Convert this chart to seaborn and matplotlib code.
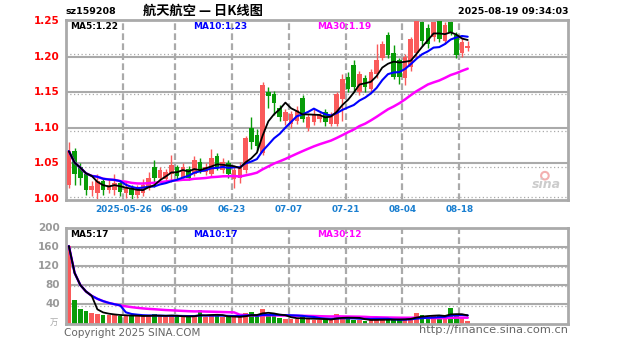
import numpy as np
import pandas as pd
import matplotlib
matplotlib.use("Agg")
import matplotlib.pyplot as plt
import seaborn as sns

# ---------------- data ----------------
code = "sz159208"
title = "航天航空 — 日K线图"
stamp = "2025-08-19 09:34:03"
first_day = "2025-05-12"
last_day = "2025-08-19"
holidays = ["2025-06-02"]

opens = [1.020, 1.068, 1.045, 1.035, 1.012, 1.008, 1.025, 1.012, 1.012, 1.022,
         1.008, 1.016, 1.005, 1.008, 1.016, 1.045, 1.030, 1.028, 1.035, 1.045,
         1.030, 1.042, 1.035, 1.052, 1.038, 1.035, 1.060, 1.040, 1.050, 1.028,
         1.030, 1.040, 1.100, 1.090, 1.065, 1.150, 1.148, 1.128, 1.110, 1.105,
         1.110, 1.142, 1.100, 1.108, 1.112, 1.122, 1.106, 1.105, 1.140, 1.172,
         1.188, 1.150, 1.170, 1.155, 1.175, 1.198, 1.230, 1.205, 1.195, 1.170,
         1.185, 1.205, 1.248, 1.240, 1.228, 1.250, 1.222, 1.248, 1.230, 1.205,
         1.212]
highs = [1.080, 1.072, 1.050, 1.038, 1.025, 1.035, 1.028, 1.028, 1.035, 1.026,
         1.024, 1.020, 1.020, 1.028, 1.038, 1.055, 1.045, 1.042, 1.062, 1.048,
         1.050, 1.046, 1.060, 1.058, 1.050, 1.070, 1.064, 1.058, 1.055, 1.045,
         1.052, 1.088, 1.115, 1.098, 1.165, 1.158, 1.152, 1.132, 1.126, 1.124,
         1.130, 1.146, 1.120, 1.126, 1.124, 1.126, 1.122, 1.150, 1.175, 1.178,
         1.195, 1.180, 1.174, 1.182, 1.218, 1.222, 1.234, 1.216, 1.198, 1.204,
         1.228, 1.251, 1.251, 1.246, 1.250, 1.251, 1.248, 1.250, 1.234, 1.228,
         1.222]
lows = [1.015, 1.020, 1.020, 1.005, 1.004, 1.000, 1.006, 1.008, 1.005, 1.004,
        1.002, 1.000, 1.002, 1.004, 1.012, 1.017, 1.025, 1.022, 1.024, 1.028,
        1.026, 1.026, 1.032, 1.036, 1.034, 1.032, 1.040, 1.036, 1.030, 1.015,
        1.022, 1.036, 1.070, 1.068, 1.062, 1.128, 1.118, 1.110, 1.104, 1.100,
        1.105, 1.108, 1.096, 1.104, 1.108, 1.102, 1.102, 1.102, 1.110, 1.150,
        1.150, 1.146, 1.150, 1.150, 1.170, 1.195, 1.198, 1.168, 1.162, 1.160,
        1.180, 1.200, 1.215, 1.212, 1.222, 1.220, 1.218, 1.230, 1.198, 1.200,
        1.208]
closes = [1.067, 1.035, 1.030, 1.012, 1.018, 1.025, 1.012, 1.020, 1.022, 1.010,
          1.015, 1.005, 1.012, 1.020, 1.030, 1.030, 1.040, 1.038, 1.048, 1.032,
          1.045, 1.030, 1.055, 1.040, 1.045, 1.058, 1.045, 1.052, 1.035, 1.040,
          1.045, 1.085, 1.080, 1.075, 1.160, 1.145, 1.135, 1.115, 1.122, 1.120,
          1.125, 1.112, 1.115, 1.120, 1.118, 1.108, 1.118, 1.148, 1.168, 1.155,
          1.158, 1.175, 1.157, 1.178, 1.195, 1.218, 1.202, 1.172, 1.172, 1.200,
          1.225, 1.250, 1.222, 1.218, 1.248, 1.225, 1.245, 1.235, 1.202, 1.220,
          1.215]
volumes = [162, 50, 30, 26, 22, 20, 18, 17, 18, 16,
           17, 15, 16, 15, 17, 19, 15, 14, 18, 15,
           14, 13, 16, 28, 14, 18, 15, 13, 14, 13,
           14, 22, 24, 16, 30, 20, 15, 12, 10, 9,
           10, 14, 9, 8, 7, 9, 8, 20, 15, 9,
           8, 7, 6, 7, 10, 9, 8, 7, 8, 11,
           14, 22, 17, 14, 15, 17, 16, 33, 17, 14,
           5]

tick_dates = ["2025-05-26", "2025-06-09", "2025-06-23", "2025-07-07",
              "2025-07-21", "2025-08-04", "2025-08-18"]
tick_labels = ["2025-05-26", "06-09", "06-23", "07-07", "07-21", "08-04", "08-18"]
price_ticks = [1.00, 1.05, 1.10, 1.15, 1.20, 1.25]
vol_ticks = [40, 80, 120, 160, 200]
ma_price_text = ["MA5:1.22", "MA10:1.23", "MA30:1.19"]
ma_vol_text = ["MA5:17", "MA10:17", "MA30:12"]

# ---------------- frame ----------------
days = pd.bdate_range(first_day, last_day)
days = days[~days.isin(pd.to_datetime(holidays))]
df = pd.DataFrame({"date": days, "open": opens, "high": highs, "low": lows,
                   "close": closes, "vol": volumes})
df["x"] = np.arange(len(df))
for n in (5, 10, 30):
    df[f"ma{n}"] = df["close"].rolling(n, min_periods=1).mean()
    df[f"vma{n}"] = df["vol"].rolling(n, min_periods=1).mean()
tick_pos = [int(np.where(df["date"] == pd.Timestamp(d))[0][0]) for d in tick_dates]

RED = "#fa5a5a"
GREEN = "#089c08"
GRID = "#aaaaaa"
BLUE = "#0000ff"
MAG = "#ff00ff"

sns.set_style("white")
plt.rcParams["font.family"] = ["DejaVu Sans"]

W, H = 627, 342
fig = plt.figure(figsize=(W / 100, H / 100), dpi=100)
L, R = 66, 568
ax = fig.add_axes([L / W, 1 - 200 / H, (R - L) / W, 180 / H])
axv = fig.add_axes([L / W, 1 - 323.5 / H, (R - L) / W, 95.5 / H])

xlim = (-0.51, 87.6)
up = df["close"] >= df["open"]
cols = np.where(up, RED, GREEN)

# grids
for a in (ax, axv):
    for p in tick_pos:
        a.axvline(p - 0.45, color=GRID, lw=1.6, ls=(0, (3, 1.5)), zorder=0)
    for s in a.spines.values():
        s.set_color(GRID)
        s.set_linewidth(2)
for t in price_ticks[1:-1]:
    ax.axhline(t, color=GRID, lw=1.5, zorder=0)
for t in [1.2037, 1.148, 1.096, 1.0445, 1.003]:
    ax.axhline(t, color=GRID, lw=0.9, ls=(0, (1, 2)), zorder=0)
for t in vol_ticks[:-1]:
    axv.axhline(t, color=GRID, lw=1.5, zorder=0)
for t in [158, 118, 78, 36]:
    axv.axhline(t, color=GRID, lw=0.9, ls=(0, (1, 2)), zorder=0)

# candles
ax.vlines(df["x"], df["low"], df["high"], colors=cols, lw=1.0, zorder=2)
body = (df["close"] - df["open"]).abs().clip(lower=0.0015)
ax.bar(df["x"], body, bottom=np.minimum(df["open"], df["close"]), width=0.8,
       color=cols, linewidth=0, zorder=3)
sns.lineplot(data=df, x="x", y="ma30", ax=ax, color=MAG, lw=1.8, zorder=4)
sns.lineplot(data=df, x="x", y="ma10", ax=ax, color=BLUE, lw=1.5, zorder=5)
sns.lineplot(data=df, x="x", y="ma5", ax=ax, color="black", lw=1.3, zorder=6)

# volume
axv.bar(df["x"], df["vol"], width=0.8, color=cols, linewidth=0, zorder=2)
sns.lineplot(data=df, x="x", y="vma30", ax=axv, color=MAG, lw=1.8, zorder=4)
sns.lineplot(data=df, x="x", y="vma10", ax=axv, color=BLUE, lw=1.5, zorder=5)
sns.lineplot(data=df, x="x", y="vma5", ax=axv, color="black", lw=1.3, zorder=6)

ax.set_xlim(*xlim)
ax.set_ylim(0.9985, 1.2515)
axv.set_xlim(*xlim)
axv.set_ylim(0, 200)
for a in (ax, axv):
    a.set_xlabel("")
    a.set_ylabel("")
    a.set_xticks([])
    a.set_yticks([])

# tick labels
for t in price_ticks:
    ax.text(-0.012, t, f"{t:.2f}", transform=ax.get_yaxis_transform(),
            ha="right", va="center", color="#ff0000", fontsize=7.5,
            fontweight="bold")
for t in vol_ticks:
    axv.text(-0.012, t, f"{t}", transform=axv.get_yaxis_transform(),
             ha="right", va="center", color="#999999", fontsize=7.5,
             fontweight="bold")
for p, lab in zip(tick_pos, tick_labels):
    ax.text(p - 0.45, -0.028, lab, transform=ax.get_xaxis_transform(),
            ha="center", va="top", color="#1a7fd0", fontsize=6.4,
            fontweight="bold")

# MA legends
for a, texts, y in ((ax, ma_price_text, 0.962), (axv, ma_vol_text, 0.935)):
    for xf, txt, c in zip((0.008, 0.253, 0.5), texts, ("black", BLUE, MAG)):
        a.text(xf, y, txt, transform=a.transAxes, ha="left", va="center",
               color=c, fontsize=6.5, fontweight="bold")

# header
fig.text(66 / W, 1 - 11 / H, code, ha="left", va="center", fontsize=6.8,
         fontweight="bold", color="black")
fig.text(203 / W, 1 - 11 / H, title, ha="center", va="center", fontsize=9.5,
         fontweight="bold", color="black",
         family=["Noto Sans CJK SC", "DejaVu Sans"])
fig.text(568 / W, 1 - 11 / H, stamp, ha="right", va="center", fontsize=6.8,
         fontweight="bold", color="black")

# watermark and footer
ax.text(0.985, 0.085, "sina", transform=ax.transAxes, ha="right", va="center",
        fontsize=9, fontweight="bold", style="italic", color="#cccccc")
ax.scatter([0.954], [0.135], transform=ax.transAxes, s=30, facecolor="none",
           edgecolor="#f3b0b0", linewidth=1.5, zorder=1)
fig.text(64 / W, 1 - 333 / H, "Copyright 2025 SINA.COM", ha="left",
         va="center", fontsize=7.5, color="#666666")
fig.text(568 / W, 1 - 330 / H, "http://finance.sina.com.cn", ha="right",
         va="center", fontsize=8.2, color="#666666")
fig.text(54 / W, 1 - 322 / H, "万", ha="center", va="center", fontsize=6,
         color="#aaaaaa", family=["Noto Sans CJK SC", "DejaVu Sans"])

fig.savefig("out.png", dpi=100)
